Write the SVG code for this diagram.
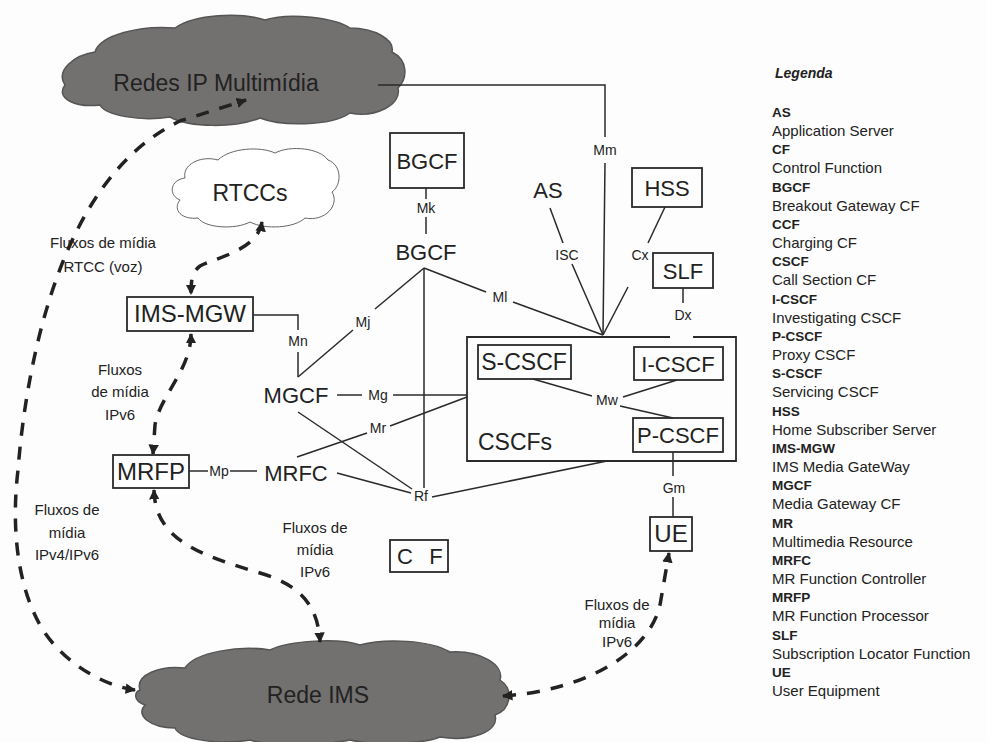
<svg xmlns="http://www.w3.org/2000/svg" width="987" height="742" viewBox="0 0 987 742">
<style>
text{font-family:"Liberation Sans",Arial,sans-serif;fill:#222}
.big{font-size:23px}
.node{font-size:22px;text-anchor:middle}
.lbl{font-size:14px;text-anchor:middle}
.flx{font-size:15px;text-anchor:middle}
.box{fill:none;stroke:#2a2a2a;stroke-width:1.8}
.ln{fill:none;stroke:#2a2a2a;stroke-width:1.5}
.dash{fill:none;stroke:#222;stroke-width:3.5;stroke-dasharray:13 11}
.cloudD{fill:#737070;stroke:#555;stroke-width:1.5}
.cloudW{fill:#fff;stroke:#666;stroke-width:1}
.lb{font-size:13.5px;font-weight:bold}
.ld{font-size:15px}
</style>
<defs>
<marker id="ah" viewBox="0 0 10 10" refX="9" refY="5" markerWidth="3" markerHeight="3" orient="auto-start-reverse" markerUnits="strokeWidth">
<path d="M0,0 L10,5 L0,10 Z" fill="#222"/>
</marker>
</defs>
<rect width="987" height="742" fill="#fdfdfd"/>

<g id="redes-ip">
<path class="cloudD" d="M65 85 C55 70,75 55,95 52 C100 35,140 25,175 28 C195 14,240 12,265 20 C290 12,335 18,350 28 C375 28,395 40,392 52 C408 60,408 78,398 88 C402 105,375 118,350 113 C330 127,280 126,260 118 C235 128,190 128,170 117 C140 122,105 115,100 105 C75 108,55 98,65 85 Z"/>
<text class="big" x="216" y="91" text-anchor="middle">Redes IP Multimídia</text>
</g>
<g id="rede-ims">
<path class="cloudD" d="M140 690 C135 675,160 665,185 668 C195 652,240 645,270 650 C290 640,340 638,360 645 C385 638,430 640,450 652 C480 650,505 665,500 680 C515 690,510 710,495 715 C500 732,470 742,440 737 C420 745,370 745,350 740 C320 746,270 746,250 740 C220 745,180 740,175 728 C150 728,135 715,145 705 C132 700,135 692,140 690 Z"/>
<text class="big" x="318" y="703" text-anchor="middle">Rede IMS</text>
</g>
<g id="rtccs">
<path class="cloudW" d="M180 200 C168 195,170 180,185 178 C182 165,200 155,218 160 C230 148,260 146,275 153 C290 145,320 148,328 160 C342 165,342 185,332 192 C340 205,325 222,305 218 C295 228,265 230,250 222 C235 230,205 228,198 218 C182 220,172 210,180 200 Z"/>
<text class="big" x="250" y="201" text-anchor="middle">RTCCs</text>
</g>

<g id="connectors">
<polyline class="ln" points="378,85 605,85 605,137"/>
<line class="ln" x1="605" y1="163" x2="603" y2="335"/>
<line class="ln" x1="426" y1="188" x2="426" y2="199"/>
<line class="ln" x1="426" y1="217" x2="426" y2="234"/>
<line class="ln" x1="424" y1="268" x2="424" y2="488"/>
<line class="ln" x1="424" y1="268" x2="486" y2="292"/>
<line class="ln" x1="513" y1="302" x2="603" y2="335"/>
<line class="ln" x1="424" y1="268" x2="375" y2="309"/>
<line class="ln" x1="353" y1="330" x2="298" y2="377"/>
<polyline class="ln" points="253,315 298,315 298,330"/>
<line class="ln" x1="298" y1="352" x2="298" y2="377"/>
<line class="ln" x1="337" y1="395" x2="362" y2="395"/>
<line class="ln" x1="393" y1="395" x2="467" y2="395"/>
<line class="ln" x1="467" y1="397" x2="390" y2="426"/>
<line class="ln" x1="367" y1="433" x2="297" y2="457"/>
<line class="ln" x1="298" y1="412" x2="412" y2="489"/>
<line class="ln" x1="337" y1="473" x2="411" y2="493"/>
<line class="ln" x1="432" y1="497" x2="607" y2="461"/>
<line class="ln" x1="189" y1="471" x2="208" y2="471"/>
<line class="ln" x1="230" y1="471" x2="257" y2="471"/>
<line class="ln" x1="550" y1="208" x2="563" y2="243"/>
<line class="ln" x1="572" y1="264" x2="603" y2="335"/>
<line class="ln" x1="665" y1="207" x2="648" y2="243"/>
<line class="ln" x1="628" y1="287" x2="603" y2="335"/>
<line class="ln" x1="683" y1="288" x2="683" y2="303"/>
<line class="ln" x1="533" y1="379" x2="592" y2="396"/>
<line class="ln" x1="677" y1="380" x2="623" y2="397"/>
<line class="ln" x1="620" y1="406" x2="673" y2="418"/>
<line class="ln" x1="673" y1="452" x2="673" y2="476"/>
<line class="ln" x1="673" y1="497" x2="673" y2="517"/>
<path class="dash" marker-start="url(#ah)" marker-end="url(#ah)" d="M135 690 C100 685,60 660,40 625 C15 580,12 520,18 470 C25 380,45 300,70 245 C95 190,130 145,180 121 L246 100"/>
<path class="dash" marker-start="url(#ah)" marker-end="url(#ah)" d="M262 222 C258 250,215 258,200 266 C192 272,191 280,191 294"/>
<path class="dash" marker-start="url(#ah)" marker-end="url(#ah)" d="M191 334 C191 370,160 395,155 425 L153 454"/>
<path class="dash" marker-start="url(#ah)" marker-end="url(#ah)" d="M154 490 C155 540,200 555,260 573 C300 585,318 605,320 642"/>
<path class="dash" marker-start="url(#ah)" marker-end="url(#ah)" d="M503 696 C590 690,650 650,660 605 L669 553"/>
<text class="lbl" x="605" y="155">Mm</text>
<text class="lbl" x="426" y="213">Mk</text>
<text class="lbl" x="500" y="302">Ml</text>
<text class="lbl" x="363" y="327">Mj</text>
<text class="lbl" x="298" y="346">Mn</text>
<text class="lbl" x="378" y="400">Mg</text>
<text class="lbl" x="378" y="433">Mr</text>
<text class="lbl" x="219" y="476">Mp</text>
<text class="lbl" x="421" y="501">Rf</text>
<text class="lbl" x="567" y="260">ISC</text>
<text class="lbl" x="640" y="260">Cx</text>
<text class="lbl" x="683" y="320">Dx</text>
<text class="lbl" x="607" y="405">Mw</text>
<text class="lbl" x="674" y="493">Gm</text>
<text class="flx" x="103" y="248" text-anchor="start">Fluxos de mídia</text>
<text class="flx" x="103" y="272" text-anchor="start">RTCC (voz)</text>
<text class="flx" x="120" y="375">Fluxos</text>
<text class="flx" x="120" y="397">de mídia</text>
<text class="flx" x="120" y="420">IPv6</text>
<text class="flx" x="67" y="515">Fluxos  de</text>
<text class="flx" x="67" y="538">mídia</text>
<text class="flx" x="67" y="560">IPv4/IPv6</text>
<text class="flx" x="315" y="533">Fluxos de</text>
<text class="flx" x="315" y="555">mídia</text>
<text class="flx" x="315" y="577">IPv6</text>
<text class="flx" x="617" y="610">Fluxos de</text>
<text class="flx" x="617" y="628">mídia</text>
<text class="flx" x="617" y="647">IPv6</text>
</g>

<g id="bgcf-box"><rect class="box" x="390" y="133" width="74" height="55"/><text class="node" x="427" y="169" font-size="24">BGCF</text></g>
<g id="bgcf"><text class="node" x="426" y="260">BGCF</text></g>
<g id="as"><text class="node" x="548" y="198">AS</text></g>
<g id="hss"><rect class="box" x="632" y="168" width="70" height="39"/><text class="node" x="667" y="196">HSS</text></g>
<g id="slf"><rect class="box" x="653" y="253" width="60" height="35"/><text class="node" x="683" y="279">SLF</text></g>
<g id="ims-mgw"><rect class="box" x="127" y="297" width="126" height="34"/><text class="node" x="190" y="322" style="font-size:24px">IMS-MGW</text></g>
<g id="mgcf"><text class="node" x="296" y="403">MGCF</text></g>
<g id="mrfp"><rect class="box" x="113" y="455" width="76" height="33"/><text class="node" x="151" y="480" style="font-size:24px">MRFP</text></g>
<g id="mrfc"><text class="node" x="296" y="481">MRFC</text></g>
<g id="cscfs">
<path class="box" d="M670 337 L467 337 L467 461 L736 461 L736 337 L693 337"/>
<text x="478" y="450" style="font-size:23px">CSCFs</text>
</g>
<g id="s-cscf"><rect class="box" x="478" y="345" width="93" height="34"/><text class="node" x="524" y="370" style="font-size:23px">S-CSCF</text></g>
<g id="i-cscf"><rect class="box" x="634" y="347" width="89" height="33"/><text class="node" x="678" y="372">I-CSCF</text></g>
<g id="p-cscf"><rect class="box" x="633" y="418" width="90" height="34"/><text class="node" x="678" y="443">P-CSCF</text></g>
<g id="ue"><rect class="box" x="650" y="517" width="42" height="34"/><text class="node" x="671" y="542" style="font-size:24px">UE</text></g>
<g id="cf"><rect class="box" x="390" y="540" width="58" height="32"/><text class="node" x="405" y="564">C</text><text class="node" x="436" y="564">F</text></g>

<g id="legend">
<text x="775" y="78" style="font-size:14px;font-weight:bold;font-style:italic">Legenda</text>
<text class="lb" x="772" y="117">AS</text>
<text class="ld" x="772" y="136">Application Server</text>
<text class="lb" x="772" y="154">CF</text>
<text class="ld" x="772" y="173">Control Function</text>
<text class="lb" x="772" y="192">BGCF</text>
<text class="ld" x="772" y="211">Breakout Gateway CF</text>
<text class="lb" x="772" y="229">CCF</text>
<text class="ld" x="772" y="248">Charging CF</text>
<text class="lb" x="772" y="266">CSCF</text>
<text class="ld" x="772" y="285">Call Section CF</text>
<text class="lb" x="772" y="304">I-CSCF</text>
<text class="ld" x="772" y="323">Investigating CSCF</text>
<text class="lb" x="772" y="341">P-CSCF</text>
<text class="ld" x="772" y="360">Proxy CSCF</text>
<text class="lb" x="772" y="378">S-CSCF</text>
<text class="ld" x="772" y="397">Servicing CSCF</text>
<text class="lb" x="772" y="416">HSS</text>
<text class="ld" x="772" y="435">Home Subscriber Server</text>
<text class="lb" x="772" y="453">IMS-MGW</text>
<text class="ld" x="772" y="472">IMS Media GateWay</text>
<text class="lb" x="772" y="490">MGCF</text>
<text class="ld" x="772" y="509">Media Gateway CF</text>
<text class="lb" x="772" y="528">MR</text>
<text class="ld" x="772" y="547">Multimedia Resource</text>
<text class="lb" x="772" y="565">MRFC</text>
<text class="ld" x="772" y="584">MR Function Controller</text>
<text class="lb" x="772" y="602">MRFP</text>
<text class="ld" x="772" y="621">MR Function Processor</text>
<text class="lb" x="772" y="640">SLF</text>
<text class="ld" x="772" y="659">Subscription Locator Function</text>
<text class="lb" x="772" y="677">UE</text>
<text class="ld" x="772" y="696">User Equipment</text>
</g>
</svg>
